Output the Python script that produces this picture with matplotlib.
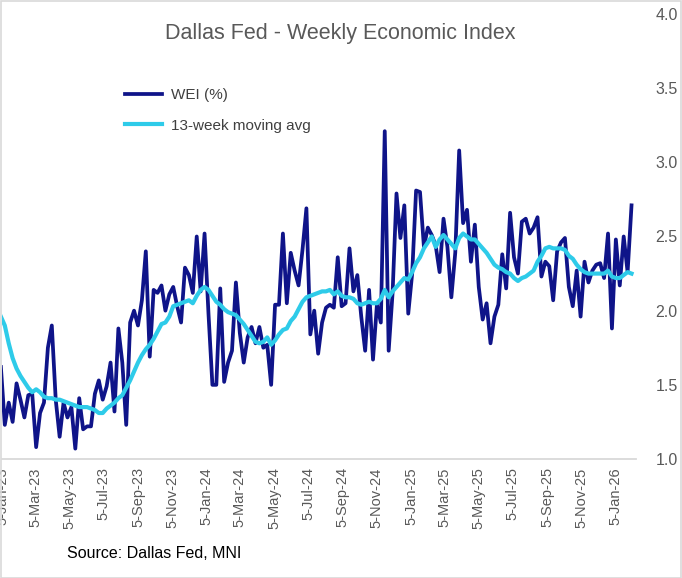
import matplotlib
matplotlib.use("Agg")
import matplotlib.pyplot as plt
import pandas as pd
import numpy as np

# ---- data (weekly) ----
start_date = "2023-01-03"
wei = [1.62,
       1.23, 1.38, 1.25, 1.51, 1.40, 1.28, 1.43, 1.44, 1.08, 1.31,
       1.38, 1.75, 1.90, 1.40, 1.15, 1.38, 1.28, 1.35, 1.07, 1.41,
       1.20, 1.22, 1.22, 1.44, 1.53, 1.40, 1.49, 1.65, 1.32, 1.88,
       1.65, 1.23, 1.92, 2.00, 1.90, 2.07, 2.40, 1.69, 2.14, 2.12,
       2.17, 2.00, 2.11, 2.16, 2.03, 1.92, 2.29, 2.24, 2.12, 2.50,
       2.13, 2.52, 1.98, 1.50, 1.50, 2.15, 1.52, 1.65, 1.73, 2.19,
       1.85, 1.65, 1.82, 1.89, 1.78, 1.89, 1.75, 1.77, 1.50, 2.04,
       2.04, 2.52, 2.05, 2.39, 2.27, 2.17, 2.41, 2.69, 1.84, 2.00,
       1.71, 1.92, 2.02, 2.04, 2.02, 2.36, 2.03, 2.05, 2.42, 2.13,
       2.24, 1.96, 1.73, 2.14, 1.67, 2.04, 1.92, 3.21, 1.73, 2.12,
       2.79, 2.49, 2.71, 1.98, 2.25, 2.81, 2.80, 2.43, 2.56, 2.51,
       2.44, 2.26, 2.62, 2.43, 2.09, 2.39, 3.08, 2.59, 2.68, 2.33,
       2.58, 2.16, 1.94, 2.05, 1.78, 1.96, 2.04, 2.38, 2.15, 2.66,
       2.36, 2.25, 2.60, 2.62, 2.52, 2.56, 2.63, 2.23, 2.33, 2.30,
       2.07, 2.40, 2.46, 2.49, 2.16, 2.03, 2.27, 1.96, 2.33, 2.19,
       2.27, 2.31, 2.32, 2.22, 2.52, 1.88, 2.48, 2.17, 2.50, 2.26,
       2.71]
ma13 = [1.96,
        1.90, 1.78, 1.68, 1.61, 1.56, 1.52, 1.48, 1.45, 1.47, 1.45,
        1.42, 1.41, 1.41, 1.40, 1.40, 1.39, 1.38, 1.37, 1.36, 1.35,
        1.35, 1.35, 1.34, 1.33, 1.31, 1.31, 1.34, 1.36, 1.38, 1.41,
        1.43, 1.48, 1.53, 1.59, 1.65, 1.70, 1.74, 1.77, 1.81, 1.86,
        1.91, 1.92, 1.96, 2.03, 2.04, 2.05, 2.06, 2.07, 2.05, 2.10,
        2.14, 2.16, 2.14, 2.10, 2.06, 2.04, 2.01, 1.99, 1.98, 1.97,
        1.94, 1.91, 1.87, 1.83, 1.79, 1.78, 1.79, 1.82, 1.77, 1.80,
        1.84, 1.87, 1.88, 1.93, 1.96, 2.01, 2.06, 2.09, 2.10, 2.11,
        2.12, 2.13, 2.13, 2.14, 2.11, 2.13, 2.10, 2.09, 2.09, 2.08,
        2.05, 2.04, 2.05, 2.06, 2.05, 2.05, 2.08, 2.14, 2.09, 2.13,
        2.16, 2.19, 2.22, 2.21, 2.26, 2.32, 2.36, 2.42, 2.46, 2.50,
        2.43, 2.48, 2.51, 2.48, 2.45, 2.42, 2.49, 2.52, 2.50, 2.48,
        2.48, 2.45, 2.42, 2.39, 2.35, 2.31, 2.29, 2.28, 2.26, 2.25,
        2.22, 2.20, 2.22, 2.23, 2.25, 2.27, 2.33, 2.37, 2.42, 2.43,
        2.42, 2.42, 2.42, 2.41, 2.37, 2.35, 2.31, 2.28, 2.26, 2.25,
        2.25, 2.25, 2.25, 2.25, 2.27, 2.23, 2.22, 2.22, 2.24, 2.26,
        2.25]
dates = pd.date_range(start_date, periods=len(wei), freq="7D")
tick_dates = pd.date_range("2023-01-01", "2026-01-01", freq="2MS") + pd.Timedelta(days=4)
tick_labels = [f"{d.day}-{d.strftime('%b-%y')}" for d in tick_dates]

title = "Dallas Fed - Weekly Economic Index"
source = "Source: Dallas Fed, MNI"

# ---- figure ----
W, H = 682, 578
fig = plt.figure(figsize=(W / 100, H / 100), dpi=100)
fig.patch.set_facecolor("white")
fig.add_artist(plt.Rectangle((0.5 / W, 0.5 / H), 1 - 1.5 / W, 1 - 1.5 / H,
                             transform=fig.transFigure, fill=False,
                             edgecolor="#d9d9d9", linewidth=1.2))

ax_l, ax_r, ax_t, ax_b = 2, 636, 14, 459
ax = fig.add_axes([ax_l / W, 1 - ax_b / H, (ax_r - ax_l) / W, (ax_b - ax_t) / H])
ax.set_facecolor("none")

navy = "#0f1489"
cyan = "#2ecbe9"
grey = "#595959"

ax.plot(dates, wei, color=navy, lw=2.7, solid_joinstyle="round", label="WEI (%)", zorder=2)
ax.plot(dates, ma13, color=cyan, lw=3.0, solid_joinstyle="round", label="13-week moving avg", zorder=3)

ax.set_ylim(1.0, 4.0)
ax.set_xlim(pd.Timestamp("2023-01-05"), pd.Timestamp("2026-02-11"))

ax.yaxis.tick_right()
yt = np.arange(1.0, 4.01, 0.5)
ax.set_yticks(yt)
ax.set_yticklabels([f"{v:.1f}" for v in yt])
ax.tick_params(axis="y", length=0, pad=14, labelsize=11.5, labelcolor=grey)

ax.set_xticks(tick_dates)
ax.set_xticklabels(tick_labels, rotation=90, fontsize=10.5, color=grey)
ax.tick_params(axis="x", length=0, pad=6)

for s in ["top", "left", "right"]:
    ax.spines[s].set_visible(False)
ax.spines["bottom"].set_color("#d9d9d9")
ax.spines["bottom"].set_linewidth(1.3)

for lab in ax.get_xticklabels() + ax.get_yticklabels():
    lab.set_family(["Liberation Sans", "DejaVu Sans"])

fig.text(340 / W, 1 - 33 / H, title, ha="center", va="center", fontsize=15.5,
         color=grey, family=["Liberation Sans", "DejaVu Sans"])

leg = ax.legend(loc="upper left", bbox_to_anchor=(125 / W, 1 - 88 / H),
                bbox_transform=fig.transFigure, frameon=False, fontsize=11,
                handlelength=2.4, handletextpad=0.6, labelspacing=1.1,
                borderpad=0, borderaxespad=0)
for t in leg.get_texts():
    t.set_color("#404040")
    t.set_family(["Liberation Sans", "DejaVu Sans"])

fig.text(67 / W, 1 - 553 / H, source, ha="left", va="center", fontsize=11.5,
         color="black", family=["Liberation Sans Narrow", "Liberation Sans", "DejaVu Sans"])

fig.savefig("out.png", dpi=100)
